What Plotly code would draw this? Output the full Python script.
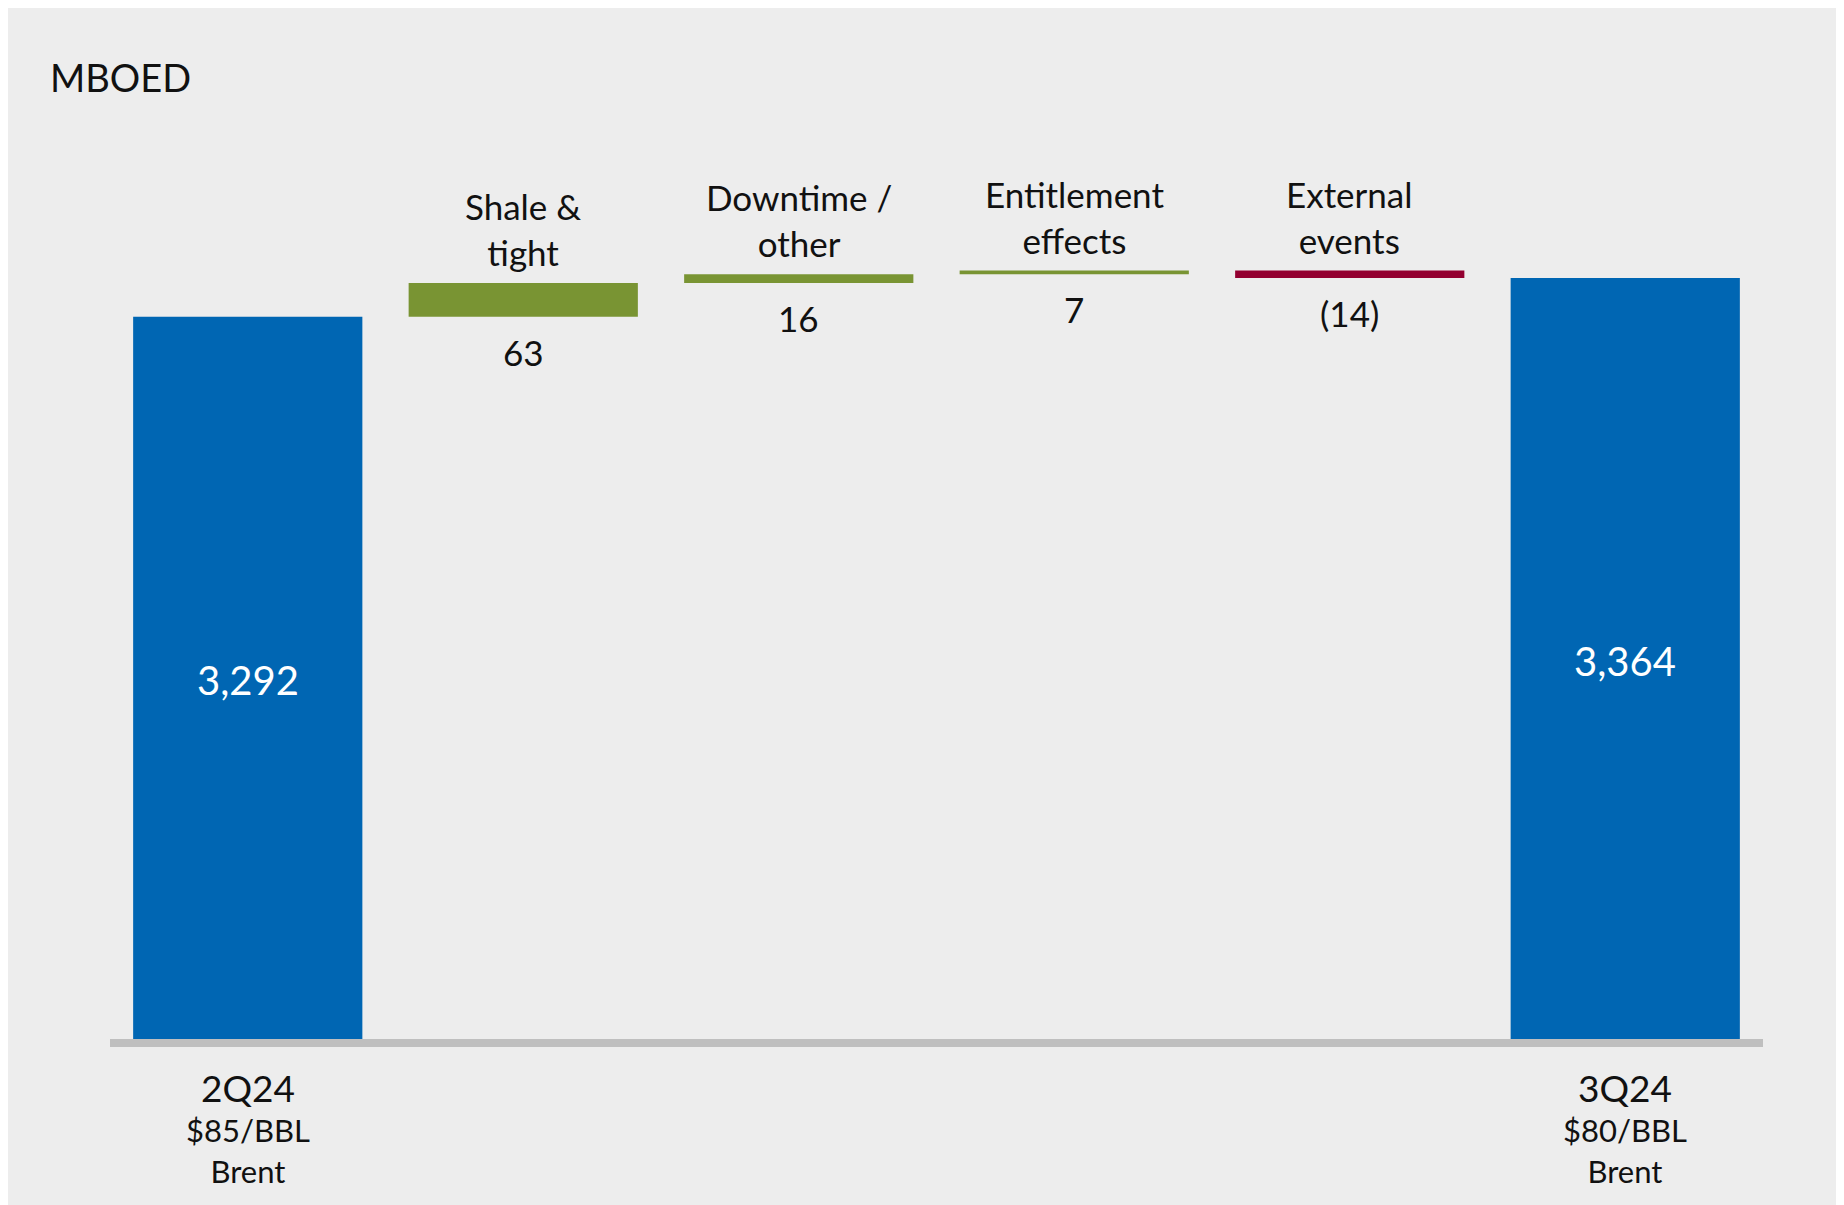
import plotly.graph_objects as go

# ---- data ----
categories = ["2Q24", "Shale & tight", "Downtime / other", "Entitlement effects", "External events", "3Q24"]
measures = ["absolute", "relative", "relative", "relative", "relative", "total"]
values = [3292, 63, 16, 7, -14, 0]
top_labels = ["", "Shale &<br>tight", "Downtime /<br>other", "Entitlement<br>effects", "External<br>events", ""]
value_labels = ["3,292", "63", "16", "7", "(14)", "3,364"]
period_labels = ["2Q24<br>$85/BBL<br>Brent", "", "", "", "", "3Q24<br>$80/BBL<br>Brent"]
unit_label = "MBOED"

BLUE = "#0066b3"
GREEN = "#799433"
RED = "#930030"
BG = "#ededed"
TXT = "#111111"
FONT = "Lato"

Y_MIN = 1950
Y_MAX = 3695

fig = go.Figure()
fig.add_trace(go.Waterfall(
    x=categories,
    measure=measures,
    y=values,
    width=[0.832] * len(categories),
    increasing=dict(marker=dict(color=GREEN, line=dict(width=0))),
    decreasing=dict(marker=dict(color=RED, line=dict(width=0))),
    totals=dict(marker=dict(color=BLUE, line=dict(width=0))),
    connector=dict(visible=False),
    textinfo="none",
    hoverinfo="skip",
))

# annotations derived from data
annotations = []
running = 0
for i, (cat, m, v) in enumerate(zip(categories, measures, values)):
    if m == "absolute":
        running = v
        total_val = v
    elif m == "total":
        total_val = running
    if m in ("absolute", "total"):
        annotations.append(dict(
            x=cat, y=(Y_MIN + total_val) / 2, xref="x", yref="y",
            text=value_labels[i], showarrow=False,
            font=dict(family=FONT, size=40, color="white"),
            xanchor="center", yanchor="middle", yshift=-2))
        annotations.append(dict(
            x=cat, y=0, xref="x", yref="paper",
            text=period_labels[i].replace(cat, f"<span style='font-size:37px'>{cat}</span>", 1),
            showarrow=False, align="center",
            font=dict(family=FONT, size=31, color=TXT),
            xanchor="center", yanchor="top", yshift=-24))
    else:
        before = running
        running = running + v
        hi, lo = max(before, running), min(before, running)
        annotations.append(dict(
            x=cat, y=hi, xref="x", yref="y",
            text=top_labels[i], showarrow=False, align="center",
            font=dict(family=FONT, size=35, color=TXT),
            xanchor="center", yanchor="bottom", yshift=8))
        annotations.append(dict(
            x=cat, y=lo, xref="x", yref="y",
            text=value_labels[i], showarrow=False,
            font=dict(family=FONT, size=35, color=TXT),
            xanchor="center", yanchor="top", yshift=-12))

L, R, T, B = 102, 89, 92, 174
W, H = 1844, 1205
ph = H - T - B

shapes = [
    dict(type="rect", xref="paper", yref="paper",
         x0=0, x1=1, y0=-8 / ph, y1=0,
         fillcolor="#bfbfbf", line=dict(width=0), layer="above"),
]

fig.update_layout(
    width=W, height=H,
    margin=dict(l=L, r=R, t=T, b=B),
    paper_bgcolor=BG,
    plot_bgcolor=BG,
    showlegend=False,
    title=dict(text=unit_label, x=42 / W, xanchor="left", xref="container",
               y=1 - 71 / H, yanchor="middle", yref="container",
               font=dict(family=FONT, size=38, color=TXT)),
    xaxis=dict(showticklabels=False, showgrid=False, zeroline=False, showline=False,
               ticks="", range=[-0.5, len(categories) - 0.5], fixedrange=True),
    yaxis=dict(visible=False, range=[Y_MIN, Y_MAX], showgrid=False, zeroline=False,
               fixedrange=True),
    annotations=annotations,
    shapes=shapes,
)

fig.write_html("out.html")
